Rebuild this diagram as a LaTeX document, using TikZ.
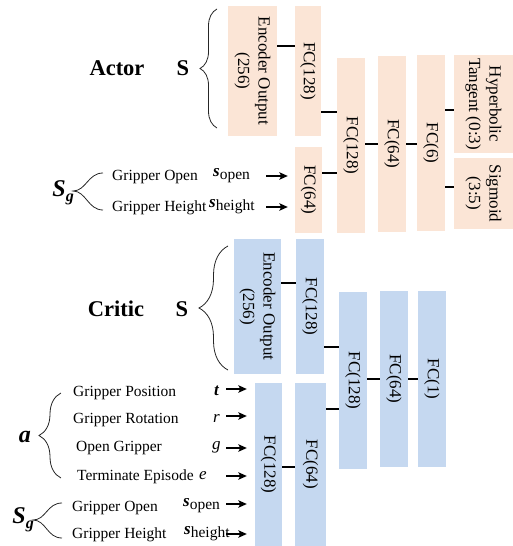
\documentclass[tikz,border=0pt]{standalone}
\usepackage{fontspec}
\setmainfont{Liberation Serif}
\usetikzlibrary{arrows.meta,decorations.pathreplacing}
\definecolor{peach}{RGB}{251,229,214}
\definecolor{lblue}{RGB}{197,216,240}
\newcommand\vtext[1]{\rotatebox{-90}{\begin{tabular}{@{}c@{}}#1\end{tabular}}}
\newcommand\symb[2]{{\fontsize{17}{20}\selectfont\bfseries\itshape #1}\raisebox{-3pt}{#2}}
\begin{document}
\begin{tikzpicture}[x=1pt,y=-1pt,
  boxtxt/.style={inner sep=0pt, font=\fontsize{17}{20.5}\selectfont},
  abox/.style={boxtxt, fill=peach},
  cbox/.style={boxtxt, fill=lblue},
  conn/.style={line width=2pt},
  arr/.style={line width=1.3pt, -{Stealth[length=8.5pt,width=7.5pt,inset=2pt]}},
  brc/.style={decorate, decoration={brace, amplitude=#1}, line width=0.8pt, draw=black!85},
  bline/.style={line width=0.8pt, draw=black!85},
  lbl/.style={anchor=west, inner sep=0pt, font=\fontsize{15.5}{18}\selectfont},
  sym/.style={anchor=west, inner sep=0pt, font=\fontsize{15.5}{18}\selectfont},
  title/.style={inner sep=0pt, font=\fontsize{22.5}{26}\selectfont\bfseries},
  big/.style={inner sep=0pt, font=\fontsize{24}{28}\selectfont\bfseries\itshape}
]
\useasboundingbox (0,0) rectangle (513,546);

% ---------------- Actor ----------------
\node[abox, minimum width=49pt, minimum height=130pt] (aenc) at (252.5,71) {\vtext{Encoder Output\\(256)}};
\node[abox, minimum width=26pt, minimum height=130pt] (afc1) at (308,71) {\vtext{FC(128)}};
\node[abox, minimum width=27pt, minimum height=86pt] (afc2) at (308.5,190) {\vtext{FC(64)}};
\node[abox, minimum width=28pt, minimum height=175pt] (afc3) at (351,145.5) {\vtext{FC(128)}};
\node[abox, minimum width=28pt, minimum height=176pt] (afc4) at (392,144) {\vtext{FC(64)}};
\node[abox, minimum width=28pt, minimum height=176pt] (afc5) at (431,143) {\vtext{FC(6)}};
\node[abox, minimum width=59pt, minimum height=98pt] (ahyp) at (483.5,104) {\vtext{Hyperbolic\\Tangent (0:3)}};
\node[abox, minimum width=59pt, minimum height=71pt] (asig) at (483.5,193.5) {\vtext{Sigmoid\\(3:5)}};

\draw[conn] (aenc.east |- 0,46) -- (afc1.west |- 0,46);
\draw[conn] (afc1.east |- 0,112) -- (afc3.west |- 0,112);
\draw[conn] (afc2.east |- 0,173) -- (afc3.west |- 0,173);
\draw[conn] (afc3.east |- 0,144) -- (afc4.west |- 0,144);
\draw[conn] (afc4.east |- 0,144) -- (afc5.west |- 0,144);
\draw[conn] (afc5.east |- 0,110) -- (ahyp.west |- 0,110);
\draw[conn] (afc5.east |- 0,187) -- (asig.west |- 0,187);

\node[title] (actor) at (117,68) {Actor};
\node[title] (aS) at (183,68) {S};
\draw[brc=17pt] (217,128) -- (217,9);

\node[big, anchor=east] (aSg) at (74,193) {S\raisebox{-5pt}{\fontsize{16}{18}\selectfont g}};
\draw[bline] (103,173) .. controls (88,173) and (86,191) .. (73,191) .. controls (86,191) and (88,210) .. (103,210);
\node[lbl] (agOpen) at (112,177) {Gripper Open};
\node[lbl] (agHeight) at (112,208) {Gripper Height};
\node[sym] (asOpen) at (213,176) {\symb{s}{open}};
\node[sym] (asHeight) at (209,207) {\symb{s}{height}};
\coordinate (aa1) at (266,176);
\coordinate (aa2) at (266,207);
\draw[arr, shorten >=7pt] (aa1) -- (afc2.west |- aa1);
\draw[arr, shorten >=7pt] (aa2) -- (afc2.west |- aa2);

% ---------------- Critic ----------------
\node[cbox, minimum width=47pt, minimum height=135pt] (cenc) at (257.5,306.5) {\vtext{Encoder Output\\(256)}};
\node[cbox, minimum width=28pt, minimum height=135pt] (cfc1) at (310,306.5) {\vtext{FC(128)}};
\node[cbox, minimum width=28pt, minimum height=177pt] (cfc3) at (353,380.5) {\vtext{FC(128)}};
\node[cbox, minimum width=28pt, minimum height=176pt] (cfc4) at (394,379) {\vtext{FC(64)}};
\node[cbox, minimum width=28pt, minimum height=176pt] (cfc5) at (432,379) {\vtext{FC(1)}};
\node[cbox, minimum width=27pt, minimum height=163pt] (cl1) at (268.5,464.5) {\vtext{FC(128)}};
\node[cbox, minimum width=31pt, minimum height=163pt] (cl2) at (310.5,464.5) {\vtext{FC(64)}};

\draw[conn] (cenc.east |- 0,283) -- (cfc1.west |- 0,283);
\draw[conn] (cfc1.east |- 0,347) -- (cfc3.west |- 0,347);
\draw[conn] (cl2.east |- 0,409) -- (cfc3.west |- 0,409);
\draw[conn] (cfc3.east |- 0,379) -- (cfc4.west |- 0,379);
\draw[conn] (cfc4.east |- 0,379) -- (cfc5.west |- 0,379);
\draw[conn] (cl1.east |- 0,467) -- (cl2.west |- 0,467);

\node[title] (critic) at (116,309) {Critic};
\node[title] (cS) at (182,309) {S};
\draw[brc=29pt] (228,370) -- (228,246);

\node[big] (ca) at (25,437) {a};
\draw[brc=22pt] (61,478) -- (61,393);
\node[lbl] (cpos) at (73,393) {Gripper Position};
\node[lbl] (crot) at (73,420) {Gripper Rotation};
\node[lbl] (copen) at (76,448) {Open Gripper};
\node[lbl] (cterm) at (77,477) {Terminate Episode};
\node[sym] (ct) at (214,391) {\fontsize{17}{20}\selectfont\bfseries\itshape t};
\node[sym] (cr) at (213,418) {\fontsize{17}{20}\selectfont\itshape r};
\node[sym] (cg) at (212,447) {\fontsize{17}{20}\selectfont\itshape g};
\node[sym] (ce) at (199,476) {\fontsize{17}{20}\selectfont\itshape e};

\node[big, anchor=east] (cSg) at (34,520) {S\raisebox{-5pt}{\fontsize{16}{18}\selectfont g}};
\draw[bline] (62,503) .. controls (47,503) and (46,520) .. (33,520) .. controls (46,520) and (47,538) .. (62,538);
\node[lbl] (cgOpen) at (72,508) {Gripper Open};
\node[lbl] (cgHeight) at (72,535) {Gripper Height};
\node[sym] (csOpen) at (183,506) {\symb{s}{open}};
\node[sym] (csHeight) at (184,534) {\symb{s}{height}};

\coordinate (ca1) at (226,389);
\coordinate (ca2) at (226,416);
\coordinate (ca3) at (226,448);
\coordinate (ca4) at (226,476);
\coordinate (ca5) at (226,504);
\coordinate (ca6) at (226,534);
\foreach \c in {ca1,ca2,ca3,ca4,ca5,ca6}
  \draw[arr, shorten >=8pt] (\c) -- (cl1.west |- \c);
\end{tikzpicture}
\end{document}
